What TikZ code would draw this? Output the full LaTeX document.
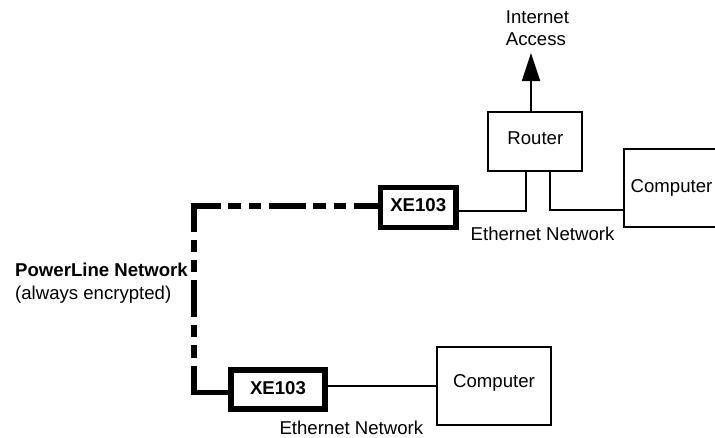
\documentclass[tikz,border=0pt]{standalone}
\usepackage{fontspec}
\setmainfont{Liberation Sans}
\usetikzlibrary{arrows.meta}
\tikzset{
  base font/.style={font=\fontsize{18.6}{21.7}\selectfont},
  plainbox/.style={draw=black,line width=1.8pt,fill=white,inner sep=0pt,base font,text depth=0pt},
  xebox/.style={draw=black,line width=5.4pt,fill=white,inner sep=0pt,text depth=0pt,font=\fontsize{18.6}{21.7}\selectfont\bfseries},
  wire/.style={draw=black,line width=1.8pt},
  label/.style={inner sep=0pt,anchor=base west,base font,align=left},
  plc/.style={draw=black,line width=5.6pt,
    dash pattern=on 26pt off 8pt on 12pt off 8pt on 13pt off 7pt on 37pt off 8pt on 12pt off 8pt on 13pt off 7pt on 52.7pt off 8pt on 12pt off 8pt on 12pt off 8pt on 37pt off 8.3pt on 12pt off 8pt on 12.7pt off 8pt on 300pt off 1pt},
}
\begin{document}
\begin{tikzpicture}[x=1pt,y=-1pt]
\useasboundingbox (0,0) rectangle (715,437);
\fill[white] (0,0) rectangle (715,437);
% PowerLine path goes below the boxes
\coordinate (corner1) at (194,206);
\coordinate (corner2) at (194,392.5);
\coordinate (xeAstart) at (380,206);
\coordinate (xeBend) at (232,392.5);
\draw[plc] (xeAstart) -- (corner1) -- (corner2) -- (xeBend);
% boxes
\node[xebox,text height=8.4pt,minimum width=75.2pt,minimum height=39.6pt] (xeA) at (418.2,207.5) {XE103};
\node[xebox,text height=9pt,minimum width=94pt,minimum height=39pt] (xeB) at (278,389.5) {XE103};
\node[plainbox,text height=5.4pt,minimum width=94pt,minimum height=59.4pt] (router) at (535.3,141.3) {Router};
\node[plainbox,text height=8.2pt,minimum width=95pt,minimum height=77.7pt] (compA) at (671.5,187.9) {Computer};
\node[plainbox,text height=4pt,minimum width=114.5pt,minimum height=78pt] (compB) at (494,385.7) {Computer};
% connectors
\coordinate (routerL) at (526,171);
\coordinate (routerR) at (550,171);
\coordinate (routerT) at (531,111.7);
\coordinate (tip) at (531,53);
\draw[wire] (routerL) |- (xeA.east |- 0,211);
\draw[wire] (routerR) |- (compA.west |- 0,210);
\draw[wire] (xeB.east |- 0,386) -- (compB.west |- 0,386);
\draw[wire,-{Triangle[length=28pt,width=18pt]}] (routerT) -- (tip);
% labels
\node[label] (inet) at (505.7,23) {Internet};
\node[label] (acc) at (505.7,45) {Access};
\node[label] (ethA) at (470.5,240.7) {Ethernet Network};
\node[label] (ethB) at (279.3,434.5) {Ethernet Network};
\node[label,font=\fontsize{18.6}{21.7}\selectfont\bfseries] (plcname) at (15,276.7) {PowerLine Network};
\node[label] (enc) at (15,299.3) {(always encrypted)};
\end{tikzpicture}
\end{document}
